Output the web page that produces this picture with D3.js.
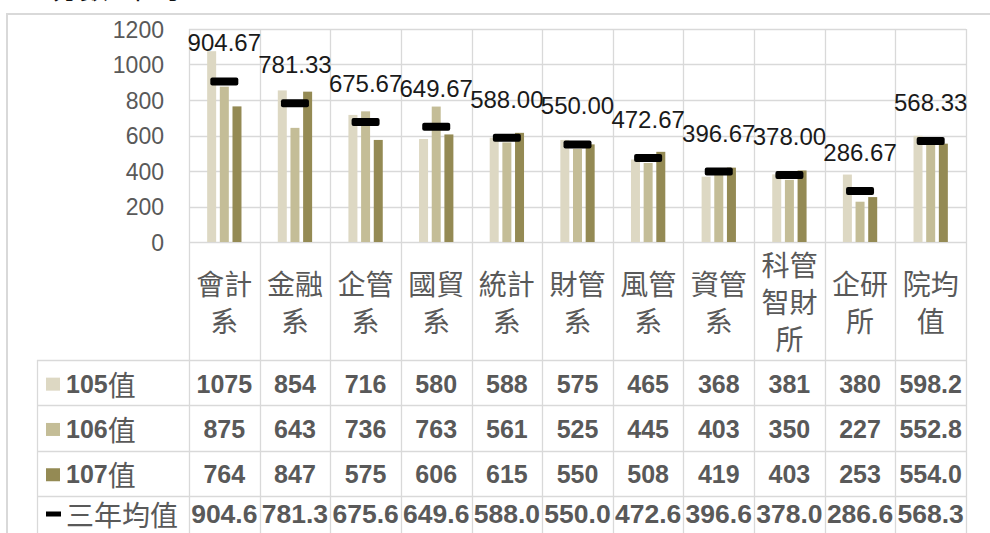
<!DOCTYPE html>
<html>
<head>
<meta charset="utf-8">
<script src="https://cdn.jsdelivr.net/npm/d3@7"></script>
<style>
  html, body { margin: 0; padding: 0; background: #fff; overflow: hidden; }
  svg { display: block; }
</style>
</head>
<body>
<svg id="chart" width="990" height="533"></svg>
<script>
// ---- data ----
const categories = [["會計","系"],["金融","系"],["企管","系"],["國貿","系"],["統計","系"],["財管","系"],["風管","系"],["資管","系"],["科管","智財","所"],["企研","所"],["院均","值"]];
const categoryKeys = categories.map(c => c.join(""));
const seriesNames = ["105", "106", "107"];
const v105 = [1075, 854, 716, 580, 588, 575, 465, 368, 381, 380, 598.2];
const v106 = [875, 643, 736, 763, 561, 525, 445, 403, 350, 227, 552.8];
const v107 = [764, 847, 575, 606, 615, 550, 508, 419, 403, 253, 554.0];
const meanValues = [904.67, 781.33, 675.67, 649.67, 588.00, 550.00, 472.67, 396.67, 378.00, 286.67, 568.33];
const yTicks = [0, 200, 400, 600, 800, 1000, 1200];
const meanLabel = "三年均值";
const titleText = "分數平均";

const seriesValues = [v105, v106, v107];
const colors = ["#ddd8c3", "#c4bd97", "#948a54"];

// ---- layout ----
const svg = d3.select("#chart");
const plotLeft = 189, plotRight = 966, plotTop = 29, plotBottom = 242;
const tableLeft = 37, headerBottom = 360, rowH = 45.3;
const grid = "#d9d9d9";
const textGray = "#595959";
const latin = "'Liberation Sans', 'Noto Sans', sans-serif";
const cjk = "'Noto Sans CJK TC', 'Noto Sans CJK SC', sans-serif";

// outer border + cropped title (only its lower edge is visible in the reference)
svg.append("rect").attr("x", 7).attr("y", 14).attr("width", 1000).attr("height", 600)
  .attr("fill", "none").attr("stroke", grid).attr("stroke-width", 2);
svg.append("text").attr("x", 52).attr("y", -1).attr("font-family", cjk).attr("font-size", 28)
  .attr("fill", "#111").text(titleText.slice(0, 2))
  .append("tspan").attr("dx", 16).text(titleText.slice(2));

const x0 = d3.scaleBand().domain(categoryKeys).range([plotLeft, plotRight]).padding(0);
const bw = x0.bandwidth();
const x1 = d3.scaleBand().domain(seriesNames).range([bw / 2 - 19, bw / 2 + 19]).paddingInner(0.29).paddingOuter(0.145);
const y = d3.scaleLinear().domain([0, 1200]).range([plotBottom, plotTop]);

// horizontal gridlines
svg.append("g").selectAll("line").data(yTicks).join("line")
  .attr("x1", plotLeft).attr("x2", plotRight)
  .attr("y1", d => Math.round(y(d)) + 0.5).attr("y2", d => Math.round(y(d)) + 0.5)
  .attr("stroke", grid).attr("stroke-width", 1.3);

// y axis labels
const yAxis = d3.axisLeft(y).tickValues(yTicks).tickFormat(d3.format("d")).tickSize(0).tickPadding(0);
const yg = svg.append("g").attr("transform", `translate(164,0)`).call(yAxis);
yg.select(".domain").remove();
yg.selectAll("text").attr("font-family", latin).attr("font-size", 23).attr("fill", textGray).attr("dy", "0.35em");

// table rows
const rowTops = [headerBottom, headerBottom + rowH, headerBottom + 2 * rowH, headerBottom + 3 * rowH, headerBottom + 4 * rowH];
const bounds = categoryKeys.map(k => x0(k)).concat([plotRight]);
svg.append("g").selectAll("line").data(bounds).join("line")
  .attr("x1", d => Math.round(d) + 0.5).attr("x2", d => Math.round(d) + 0.5)
  .attr("y1", plotTop).attr("y2", 560)
  .attr("stroke", grid).attr("stroke-width", 1.3);
svg.append("line").attr("x1", tableLeft + 0.5).attr("x2", tableLeft + 0.5).attr("y1", headerBottom).attr("y2", 560)
  .attr("stroke", grid).attr("stroke-width", 1.3);
svg.append("g").selectAll("line").data(rowTops).join("line")
  .attr("x1", tableLeft).attr("x2", plotRight)
  .attr("y1", d => Math.round(d) + 0.5).attr("y2", d => Math.round(d) + 0.5)
  .attr("stroke", grid).attr("stroke-width", 1.3);

// bars
const barG = svg.append("g");
seriesNames.forEach((s, si) => {
  barG.append("g").selectAll("rect").data(seriesValues[si]).join("rect")
    .attr("x", (d, i) => x0(categoryKeys[i]) + x1(s))
    .attr("width", x1.bandwidth())
    .attr("y", d => y(d))
    .attr("height", d => plotBottom - y(d))
    .attr("fill", colors[si]);
});

// mean markers
svg.append("g").selectAll("rect").data(meanValues).join("rect")
  .attr("x", (d, i) => x0(categoryKeys[i]) + bw / 2 - 14)
  .attr("y", d => y(d) - 4)
  .attr("width", 28).attr("height", 8).attr("rx", 2)
  .attr("fill", "#000");

// mean labels
svg.append("g").selectAll("text").data(meanValues).join("text")
  .attr("x", (d, i) => x0(categoryKeys[i]) + bw / 2)
  .attr("y", d => y(d) - 30)
  .attr("text-anchor", "middle")
  .attr("font-family", latin).attr("font-size", 24).attr("fill", "#1a1a1a")
  .text(d => d.toFixed(2));

// category labels (header row)
const headerMid = (plotBottom + headerBottom) / 2;
const lineH = 37;
const catG = svg.append("g");
categories.forEach((lines, i) => {
  const cx = x0(categoryKeys[i]) + bw / 2;
  const t = catG.append("text").attr("text-anchor", "middle")
    .attr("font-family", cjk).attr("font-size", 28).attr("fill", textGray);
  lines.forEach((ln, li) => {
    t.append("tspan").attr("x", cx)
      .attr("y", headerMid + (li - (lines.length - 1) / 2) * lineH)
      .attr("dominant-baseline", "central")
      .text(ln);
  });
});

// table values
const fmt = (v, i) => (i === categoryKeys.length - 1 ? v.toFixed(1) : String(v));
seriesNames.forEach((s, si) => {
  const cy = rowTops[si] + rowH / 2 + 1;
  svg.append("g").selectAll("text").data(seriesValues[si]).join("text")
    .attr("x", (d, i) => x0(categoryKeys[i]) + bw / 2)
    .attr("y", cy).attr("dominant-baseline", "central")
    .attr("text-anchor", "middle")
    .attr("font-family", latin).attr("font-size", 25).attr("font-weight", "bold").attr("fill", textGray)
    .text((d, i) => fmt(d, i));
  svg.append("rect").attr("x", 46).attr("y", cy - 6).attr("width", 14).attr("height", 13).attr("fill", colors[si]);
  const lt = svg.append("text").attr("x", 66).attr("y", cy).attr("dominant-baseline", "central")
    .attr("fill", textGray);
  lt.append("tspan").attr("font-family", latin).attr("font-size", 25).attr("font-weight", "bold").text(s);
  lt.append("tspan").attr("font-family", cjk).attr("font-size", 28).text("值");
});
// mean row
const mcy = 514;
svg.append("g").selectAll("text").data(meanValues).join("text")
  .attr("x", (d, i) => x0(categoryKeys[i]) + bw / 2)
  .attr("y", mcy).attr("dominant-baseline", "central")
  .attr("text-anchor", "middle")
  .attr("font-family", latin).attr("font-size", 26.5).attr("font-weight", "bold").attr("fill", textGray)
  .text(d => (Math.floor(d * 10 + 1e-6) / 10).toFixed(1));
svg.append("rect").attr("x", 46).attr("y", mcy - 2.5).attr("width", 15).attr("height", 5).attr("fill", "#000");
svg.append("text").attr("x", 66).attr("y", mcy).attr("dominant-baseline", "central")
  .attr("font-family", cjk).attr("font-size", 28).attr("fill", textGray).text(meanLabel);
</script>
</body>
</html>
